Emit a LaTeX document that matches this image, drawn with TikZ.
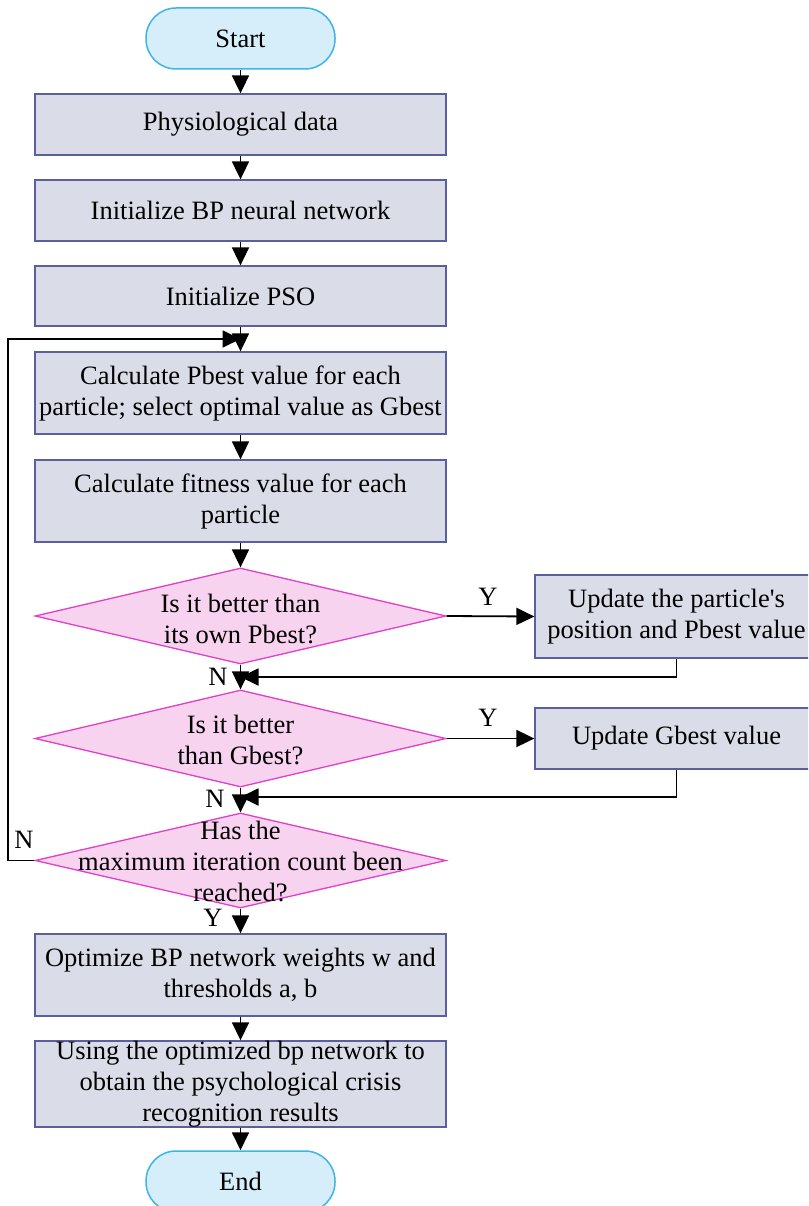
\documentclass[tikz,border=0pt]{standalone}
\usepackage{fontspec}
\setmainfont{Liberation Serif}[Ligatures=TeXOff]
\usetikzlibrary{arrows.meta,shapes.geometric}
\definecolor{boxfill}{HTML}{DADCE8}
\definecolor{boxline}{HTML}{5B5F9E}
\definecolor{termfill}{HTML}{D6EEF9}
\definecolor{termline}{HTML}{3DB5E6}
\definecolor{decfill}{HTML}{F8D3F0}
\definecolor{decline}{HTML}{E23FC3}
\begin{document}
\begin{tikzpicture}[x=1pt,y=-1pt,
  every node/.style={font=\fontsize{26.5}{31}\selectfont},
  proc/.style={draw=boxline,fill=boxfill,line width=1.3pt,minimum width=411pt,align=center,inner sep=0pt},
  term/.style={draw=termline,fill=termfill,line width=1.5pt,rounded corners=30pt,minimum width=189pt,minimum height=61pt,inner sep=0pt},
  dec/.style={diamond,draw=decline,fill=decfill,line width=1.3pt,minimum width=411pt,inner sep=0pt},
  dectext/.style={align=center,inner sep=0pt},
  arr/.style={-{Triangle[length=18pt,width=17pt]},line width=1.8pt},
  lbl/.style={inner sep=0pt}]
\path[use as bounding box] (0,0) rectangle (808,1206);
\clip (0,0) rectangle (808,1206);

\node[term] (start) at (240.5,38.5) {Start};
\node[proc,minimum height=61pt] (p1) at (240.5,124.5) {Physiological data};
\node[proc,minimum height=61pt] (p2) at (240.5,210.5) {Initialize BP neural network};
\node[proc,minimum height=60pt] (p3) at (240.5,296) {Initialize PSO};
\node[proc,minimum height=82pt] (p4) at (240.5,393) {Calculate Pbest value for each\\particle; select optimal value as Gbest};
\node[proc,minimum height=82pt] (p5) at (240.5,501) {Calculate fitness value for each\\particle};

\node[dec,minimum height=96pt] (d1) at (240.5,616) {};
\node[dectext] (t1) at (240.5,619) {Is it better than\\its own Pbest?};
\node[proc,minimum width=283pt,minimum height=83pt] (u1) at (676.5,616.5) {Update the particle's\\position and Pbest value};

\node[dec,minimum height=97pt] (d2) at (240.5,738.5) {};
\node[dectext] (t2) at (240.5,740) {Is it better\\than Gbest?};
\node[proc,minimum width=283pt,minimum height=61pt] (u2) at (676.5,738.5) {Update Gbest value};

\node[dec,minimum height=95pt] (d3) at (240.5,860.5) {};
\node[dectext] (t3) at (240.5,861) {Has the\\maximum iteration count been\\reached?};

\node[proc,minimum height=82pt] (p6) at (240.5,975) {Optimize BP network weights w and\\thresholds a, b};
\node[proc,minimum height=83pt] (p7) at (240.5,1084) {Using the optimized bp network to\\obtain the psychological crisis\\recognition results};
\node[term] (end) at (240.5,1181.5) {End};

\coordinate (j1) at (240.5,677);
\coordinate (j2) at (240.5,797);
\coordinate (j3) at (240.5,339);

\draw[arr] (start.south) -- (p1.north);
\draw[arr] (p1.south) -- (p2.north);
\draw[arr] (p2.south) -- (p3.north);
\draw[arr] (p3.south) -- (p4.north);
\draw[arr] (p4.south) -- (p5.north);
\draw[arr] (p5.south) -- (d1.north);
\draw[arr] (d1.east) -- (u1.west);
\draw[arr] (u1.south) |- (j1);
\draw[arr] (d1.south) -- (d2.north);
\draw[arr] (d2.east) -- (u2.west);
\draw[arr] (u2.south) |- (j2);
\draw[arr] (d2.south) -- (d3.north);
\draw[arr] (d3.west) -- ++(-26,0) |- (j3);
\draw[arr] (d3.south) -- (p6.north);
\draw[arr] (p6.south) -- (p7.north);
\draw[arr] (p7.south) -- (end.north);

\node[lbl] (ly1) at (488,597) {Y};
\node[lbl] (ly2) at (488,718) {Y};
\node[lbl] (ln1) at (218,677) {N};
\node[lbl] (ln2) at (215,799) {N};
\node[lbl] (ln3) at (24,840) {N};
\node[lbl] (ly3) at (213,918) {Y};
\end{tikzpicture}
\end{document}
